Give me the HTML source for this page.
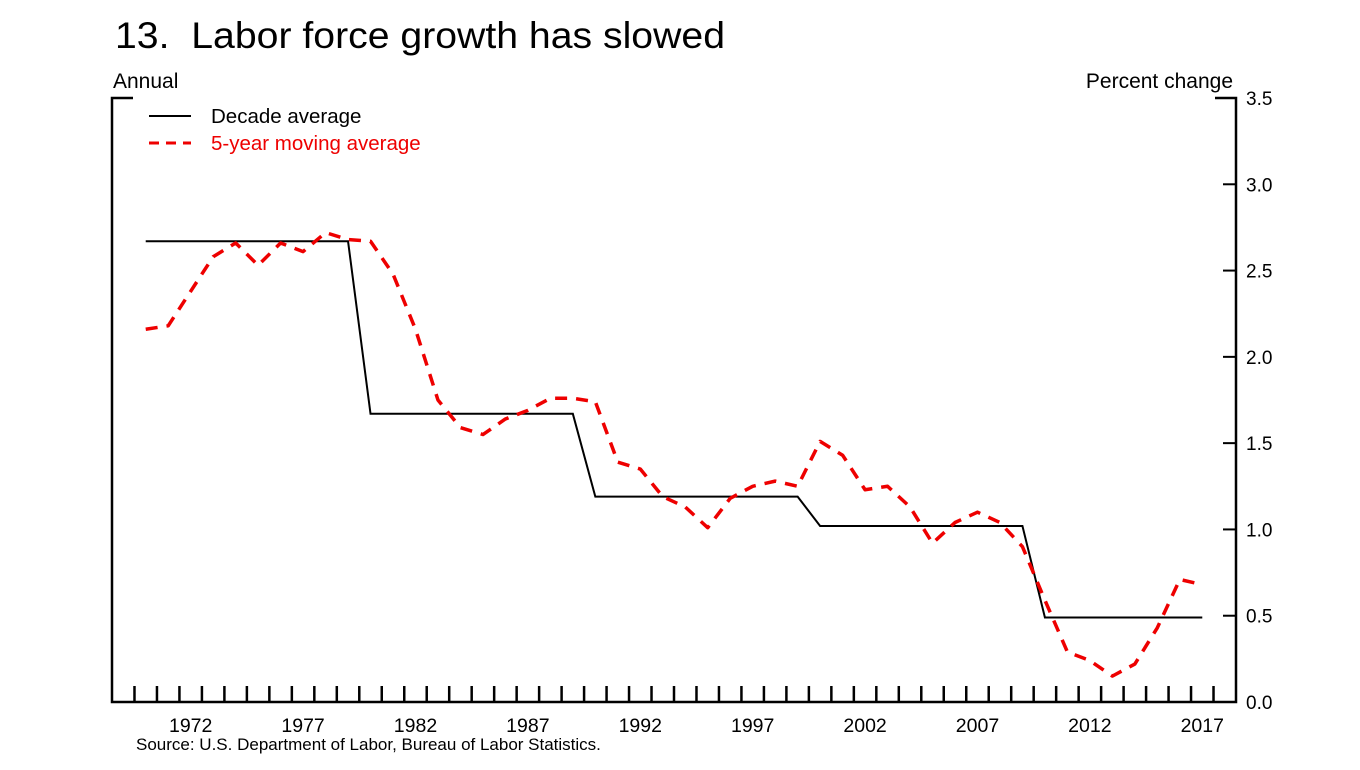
<!DOCTYPE html>
<html><head><meta charset="utf-8">
<style>
body{margin:0;background:#fff;}
svg{display:block;font-family:"Liberation Sans",Arial,sans-serif;}
</style></head>
<body>
<svg id="chart" width="1360" height="770" viewBox="0 0 1360 770">
<text x="115" y="48" font-size="37" fill="#000" textLength="610" lengthAdjust="spacingAndGlyphs" xml:space="preserve">13.  Labor force growth has slowed</text>
<text x="113" y="88" font-size="21">Annual</text>
<text x="1233" y="88" font-size="21" text-anchor="end">Percent change</text>
<g id="axes"></g>
<g id="series"></g>
<g>
<line x1="149" y1="116" x2="191" y2="116" stroke="#000" stroke-width="2"/>
<text x="211" y="123" font-size="20.5">Decade average</text>
<line x1="149" y1="143" x2="191" y2="143" stroke="#e00" stroke-width="3" stroke-dasharray="10,7"/>
<text x="211" y="150" font-size="20.5" fill="#e00">5-year moving average</text>
</g>
<text x="136" y="750" font-size="17">Source:  U.S. Department of Labor, Bureau of Labor Statistics.</text>
</svg>
<script>
const years = [];
for (let y = 1970; y <= 2017; y++) years.push(y);
const movingAvg = [2.16,2.18,2.38,2.58,2.66,2.53,2.66,2.61,2.72,2.68,
2.67,2.48,2.16,1.75,1.59,1.55,1.64,1.69,1.76,1.76,
1.74,1.39,1.35,1.19,1.13,1.01,1.18,1.25,1.28,1.25,
1.51,1.43,1.23,1.25,1.13,0.92,1.04,1.10,1.04,0.90,
0.59,0.29,0.24,0.15,0.22,0.43,0.71,0.68];
const decadeStarts = [1970,1980,1990,2000,2010];
const decadeEnds = [1979,1989,1999,2009,2017];
const decadeValues = [2.67,1.67,1.19,1.02,0.49];
const yTicks = [0.0,0.5,1.0,1.5,2.0,2.5,3.0,3.5];
const xLabels = [1972,1977,1982,1987,1992,1997,2002,2007,2012,2017];

const NS="http://www.w3.org/2000/svg";
const L=112,R=1236,T=98,B=702,yMax=3.5;
const yrW=(R-L)/50;
const xB=y=>L+(y-1969)*yrW;
const xC=y=>xB(y)+yrW/2;
const yS=v=>B-(v/yMax)*(B-T);
function mk(tag,attrs,parent){const e=document.createElementNS(NS,tag);for(const k in attrs)e.setAttribute(k,attrs[k]);parent.appendChild(e);return e;}
const ax=document.getElementById('axes'), se=document.getElementById('series');

let el=mk('path',{d:`M${L+21},${T} H${L} V${B} H${R} V${T} H${R-21}`,fill:'none',stroke:'#000','stroke-width':2.5},ax);


for(let y=1970;y<=2018;y++){
  el=mk('line',{x1:xB(y),x2:xB(y),y1:B,y2:B-16,stroke:'#000','stroke-width':2.5},ax);
  
  
}
xLabels.forEach(y=>{
  el=mk('text',{x:xC(y),y:732,'font-size':19.5,'text-anchor':'middle'},ax);
  el.textContent=y;
  
  
});
yTicks.forEach(v=>{
  if(v>0&&v<yMax){
    el=mk('line',{x1:R-13,x2:R,y1:yS(v),y2:yS(v),stroke:'#000','stroke-width':2},ax);
    
    
  }
  el=mk('text',{x:R+10,y:yS(v)+7,'font-size':19},ax);
  el.textContent=v.toFixed(1);
  
  
});
let d='';
decadeValues.forEach((v,i)=>{d+=(i?'L':'M')+xC(decadeStarts[i])+','+yS(v)+' L'+xC(decadeEnds[i])+','+yS(v)+' ';});
el=mk('path',{d:d,fill:'none',stroke:'#000','stroke-width':2},se);


d=movingAvg.map((v,i)=>(i?'L':'M')+xC(years[i])+','+yS(v)).join(' ');
el=mk('path',{d:d,fill:'none',stroke:'#e00','stroke-width':3.5,'stroke-dasharray':'12,9','stroke-linejoin':'round'},se);


</script>
</body></html>
